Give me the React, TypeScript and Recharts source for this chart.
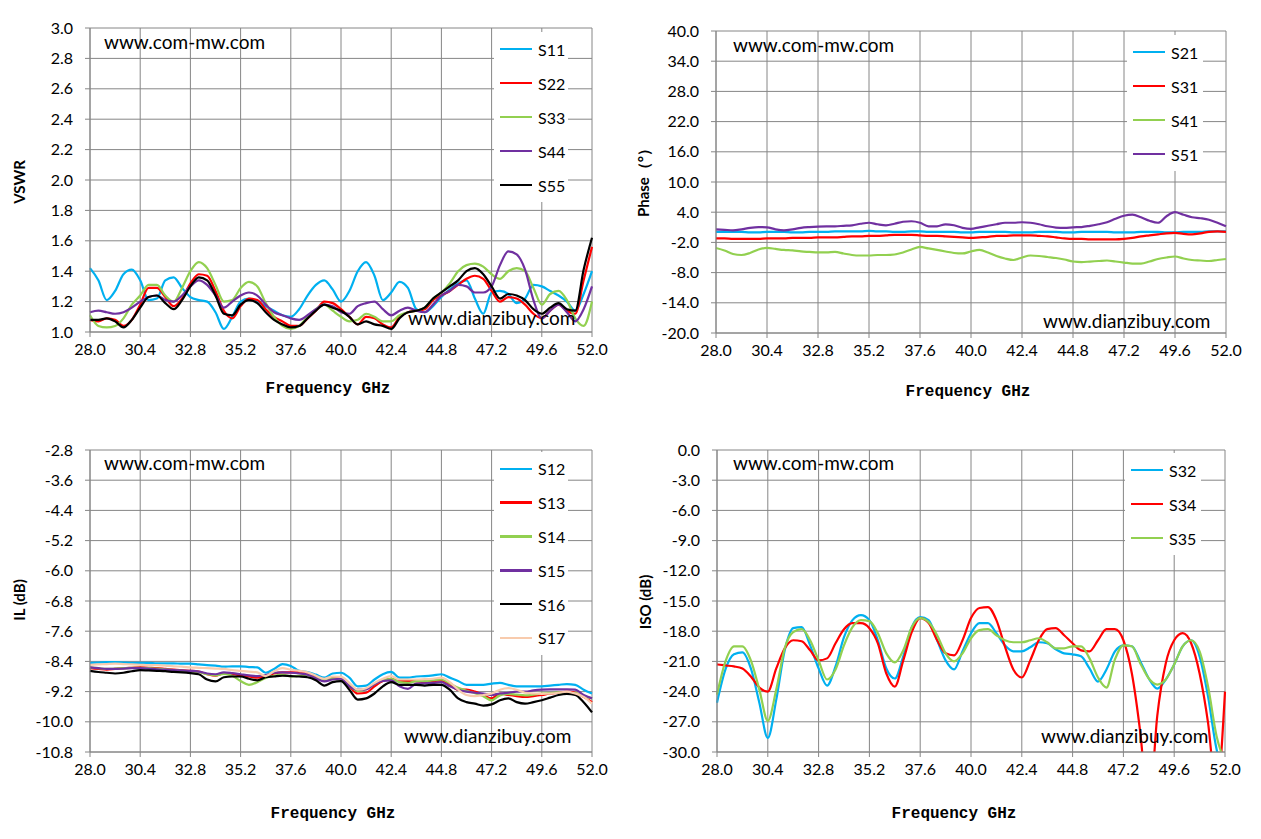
import { LineChart, Line, XAxis, YAxis, CartesianGrid } from 'recharts';

// frequency points, GHz
const freq = [
  28.0, 28.4, 28.8, 29.2, 29.6, 30.0, 30.4, 30.8, 31.2, 31.6,
  32.0, 32.4, 32.8, 33.2, 33.6, 34.0, 34.4, 34.8, 35.2, 35.6,
  36.0, 36.4, 36.8, 37.2, 37.6, 38.0, 38.4, 38.8, 39.2, 39.6,
  40.0, 40.4, 40.8, 41.2, 41.6, 42.0, 42.4, 42.8, 43.2, 43.6,
  44.0, 44.4, 44.8, 45.2, 45.6, 46.0, 46.4, 46.8, 47.2, 47.6,
  48.0, 48.4, 48.8, 49.2, 49.6, 50.0, 50.4, 50.8, 51.2, 51.6,
  52.0,
];
const freqTicks = [28.0, 30.4, 32.8, 35.2, 37.6, 40.0, 42.4, 44.8, 47.2, 49.6, 52.0];

// VSWR
const s11 = [
  1.42, 1.34, 1.21, 1.27, 1.38, 1.41, 1.34, 1.21, 1.22, 1.34,
  1.36, 1.29, 1.23, 1.21, 1.20, 1.13, 1.02, 1.10, 1.20, 1.22,
  1.20, 1.17, 1.14, 1.11, 1.10, 1.15, 1.24, 1.31, 1.34, 1.28,
  1.20, 1.27, 1.40, 1.46, 1.37, 1.21, 1.26, 1.33, 1.29, 1.15,
  1.13, 1.17, 1.23, 1.28, 1.32, 1.34, 1.22, 1.12, 1.26, 1.27,
  1.25, 1.19, 1.22, 1.31, 1.30, 1.27, 1.24, 1.20, 1.14, 1.25,
  1.40,
];
const s22 = [
  1.08, 1.07, 1.09, 1.08, 1.04, 1.08, 1.18, 1.29, 1.29, 1.23,
  1.17, 1.22, 1.32, 1.38, 1.37, 1.27, 1.14, 1.09, 1.17, 1.22,
  1.21, 1.15, 1.10, 1.07, 1.04, 1.04, 1.09, 1.14, 1.20, 1.19,
  1.15, 1.10, 1.05, 1.10, 1.09, 1.05, 1.03, 1.10, 1.13, 1.14,
  1.15, 1.21, 1.24, 1.27, 1.31, 1.35, 1.37, 1.35, 1.27, 1.20,
  1.23, 1.22, 1.18, 1.12, 1.09, 1.14, 1.18, 1.14, 1.12, 1.34,
  1.56,
];
const s33 = [
  1.11, 1.04, 1.03, 1.04, 1.09, 1.18, 1.24, 1.31, 1.31, 1.24,
  1.20, 1.29, 1.40, 1.46, 1.42, 1.31, 1.20, 1.21, 1.29, 1.33,
  1.30, 1.19, 1.10, 1.04, 1.02, 1.04, 1.10, 1.15, 1.18, 1.14,
  1.10, 1.07, 1.08, 1.12, 1.10, 1.07, 1.07, 1.11, 1.13, 1.14,
  1.16, 1.22, 1.26, 1.32, 1.40, 1.44, 1.45, 1.43, 1.38, 1.35,
  1.40, 1.42, 1.40, 1.29, 1.18, 1.25, 1.27, 1.21, 1.09, 1.04,
  1.20,
];
const s44 = [
  1.13, 1.14, 1.13, 1.12, 1.13, 1.16, 1.20, 1.23, 1.24, 1.21,
  1.20, 1.24, 1.30, 1.34, 1.31, 1.24, 1.16, 1.20, 1.24, 1.26,
  1.24, 1.18, 1.13, 1.11, 1.09, 1.08, 1.11, 1.15, 1.18, 1.17,
  1.13, 1.12, 1.17, 1.19, 1.20, 1.15, 1.11, 1.14, 1.16, 1.14,
  1.13, 1.18, 1.24, 1.27, 1.31, 1.30, 1.26, 1.26, 1.30, 1.44,
  1.53, 1.51, 1.41, 1.21, 1.09, 1.14, 1.18, 1.13, 1.07, 1.15,
  1.30,
];
const s55 = [
  1.08, 1.08, 1.09, 1.07, 1.03, 1.08, 1.16, 1.23, 1.24, 1.19,
  1.15, 1.21, 1.30, 1.36, 1.34, 1.24, 1.12, 1.11, 1.18, 1.21,
  1.19, 1.13, 1.08, 1.05, 1.03, 1.04, 1.09, 1.14, 1.18, 1.16,
  1.14, 1.10, 1.05, 1.07, 1.05, 1.04, 1.02, 1.09, 1.13, 1.14,
  1.16, 1.22, 1.26, 1.30, 1.34, 1.40, 1.42, 1.38, 1.30, 1.22,
  1.25, 1.24, 1.21, 1.15, 1.12, 1.16, 1.19, 1.15, 1.14, 1.41,
  1.62,
];
const vswrTicks = [1.0, 1.2, 1.4, 1.6, 1.8, 2.0, 2.2, 2.4, 2.6, 2.8, 3.0];

// Phase
const s21 = [
  0.1, 0.1, 0.1, 0.1, 0.0, 0.0, 0.1, 0.1, 0.1, 0.0,
  0.0, 0.1, 0.1, 0.1, 0.2, 0.2, 0.2, 0.2, 0.3, 0.2,
  0.2, 0.1, 0.1, 0.2, 0.2, 0.1, 0.1, 0.1, 0.1, 0.0,
  0.0, 0.1, 0.1, 0.1, 0.1, 0.0, 0.0, 0.0, 0.1, 0.1,
  0.1, 0.0, 0.0, 0.1, 0.1, 0.1, 0.1, 0.0, 0.0, 0.0,
  0.1, 0.1, 0.1, 0.0, 0.0, 0.1, 0.1, 0.1, 0.2, 0.2,
  0.2,
];
const s31 = [
  -1.2, -1.2, -1.3, -1.3, -1.3, -1.3, -1.2, -1.2, -1.2, -1.1,
  -1.1, -1.1, -1.0, -1.0, -1.0, -0.9, -0.8, -0.8, -0.7, -0.7,
  -0.6, -0.5, -0.5, -0.5, -0.6, -0.7, -0.7, -0.8, -0.9, -1.0,
  -1.1, -1.0, -0.9, -0.7, -0.7, -0.6, -0.6, -0.6, -0.7, -0.8,
  -1.0, -1.2, -1.3, -1.3, -1.4, -1.4, -1.4, -1.4, -1.3, -1.1,
  -0.8, -0.6, -0.4, -0.2, -0.1, -0.3, -0.4, -0.2, 0.1, 0.2,
  0.1,
];
const s41 = [
  -3.1, -3.6, -4.3, -4.5, -4.1, -3.4, -3.1, -3.3, -3.5, -3.6,
  -3.8, -3.9, -4.0, -4.0, -3.9, -4.2, -4.5, -4.6, -4.6, -4.5,
  -4.5, -4.4, -4.0, -3.4, -2.9, -3.2, -3.5, -3.8, -4.1, -4.2,
  -3.8, -3.5, -4.0, -4.7, -5.2, -5.5, -5.0, -4.6, -4.7, -4.9,
  -5.1, -5.4, -5.8, -5.9, -5.8, -5.7, -5.6, -5.8, -6.0, -6.2,
  -6.2, -5.8, -5.3, -5.0, -4.8, -5.2, -5.5, -5.6, -5.7, -5.5,
  -5.3,
];
const s51 = [
  0.6, 0.5, 0.4, 0.6, 0.9, 1.05, 1.0, 0.6, 0.4, 0.6,
  0.9, 1.05, 1.15, 1.2, 1.2, 1.3, 1.4, 1.7, 1.9, 1.6,
  1.4, 1.7, 2.1, 2.2, 1.9, 1.2, 1.2, 1.6, 1.4, 0.9,
  0.7, 1.0, 1.3, 1.6, 1.9, 1.9, 2.0, 1.9, 1.6, 1.2,
  0.95, 0.9, 1.0, 1.05, 1.3, 1.6, 2.0, 2.7, 3.3, 3.5,
  3.0, 2.3, 1.9, 3.2, 4.0, 3.5, 3.0, 2.8, 2.5, 1.9,
  1.2,
];
const phaseTicks = [-20, -14, -8, -2, 4, 10, 16, 22, 28, 34, 40];

// Insertion loss
const s12 = [
  -8.44, -8.43, -8.42, -8.42, -8.43, -8.44, -8.44, -8.44, -8.45, -8.45,
  -8.45, -8.46, -8.46, -8.48, -8.50, -8.51, -8.54, -8.53, -8.53, -8.55,
  -8.56, -8.70, -8.60, -8.47, -8.52, -8.65, -8.68, -8.75, -8.83, -8.72,
  -8.70, -8.83, -9.06, -9.04, -8.88, -8.74, -8.68, -8.83, -8.83, -8.80,
  -8.79, -8.77, -8.74, -8.83, -8.92, -9.02, -9.02, -9.02, -8.99, -8.97,
  -9.02, -9.06, -9.06, -9.06, -9.06, -9.04, -9.02, -9.00, -9.02, -9.15,
  -9.25,
];
const s13 = [
  -8.58, -8.60, -8.62, -8.60, -8.58, -8.57, -8.56, -8.57, -8.58, -8.60,
  -8.62, -8.64, -8.65, -8.67, -8.74, -8.78, -8.71, -8.73, -8.77, -8.80,
  -8.83, -8.79, -8.72, -8.69, -8.69, -8.69, -8.72, -8.82, -8.88, -8.83,
  -8.86, -9.06, -9.25, -9.23, -9.06, -8.92, -8.86, -8.92, -8.92, -8.92,
  -8.95, -8.92, -8.90, -9.02, -9.15, -9.15, -9.20, -9.29, -9.38, -9.25,
  -9.29, -9.32, -9.34, -9.32, -9.29, -9.25, -9.23, -9.20, -9.23, -9.34,
  -9.48,
];
const s14 = [
  -8.56, -8.58, -8.60, -8.59, -8.58, -8.57, -8.57, -8.58, -8.59, -8.61,
  -8.63, -8.65, -8.66, -8.68, -8.74, -8.77, -8.73, -8.78, -8.92, -9.02,
  -8.95, -8.84, -8.78, -8.75, -8.80, -8.78, -8.76, -8.84, -8.90, -8.85,
  -8.88, -9.04, -9.18, -9.14, -9.00, -8.90, -8.86, -8.95, -8.97, -8.92,
  -8.92, -8.90, -8.88, -8.98, -9.10, -9.18, -9.24, -9.32, -9.43, -9.30,
  -9.26, -9.28, -9.30, -9.28, -9.25, -9.24, -9.22, -9.25, -9.24, -9.32,
  -9.38,
];
const s15 = [
  -8.56, -8.58, -8.60, -8.60, -8.59, -8.58, -8.58, -8.59, -8.61, -8.62,
  -8.63, -8.64, -8.65, -8.67, -8.72, -8.74, -8.69, -8.71, -8.74, -8.77,
  -8.79, -8.76, -8.70, -8.69, -8.70, -8.72, -8.75, -8.85, -8.93, -8.88,
  -8.86, -9.06, -9.15, -9.14, -9.00, -8.92, -8.90, -9.06, -9.13, -8.99,
  -8.98, -8.97, -8.95, -9.06, -9.15, -9.20, -9.23, -9.25, -9.29, -9.25,
  -9.23, -9.20, -9.20, -9.17, -9.15, -9.14, -9.14, -9.14, -9.15, -9.29,
  -9.38,
];
const s16 = [
  -8.65, -8.68, -8.70, -8.72, -8.70, -8.66, -8.63, -8.64, -8.65, -8.66,
  -8.68, -8.69, -8.71, -8.74, -8.88, -8.93, -8.82, -8.80, -8.80, -8.86,
  -8.90, -8.82, -8.80, -8.78, -8.79, -8.80, -8.82, -8.90, -9.04, -8.95,
  -8.92, -9.15, -9.41, -9.38, -9.25, -9.06, -8.95, -9.02, -9.02, -9.02,
  -9.04, -9.02, -9.02, -9.15, -9.38, -9.48, -9.52, -9.57, -9.54, -9.43,
  -9.38, -9.48, -9.52, -9.48, -9.43, -9.36, -9.29, -9.26, -9.29, -9.48,
  -9.75,
];
const s17 = [
  -8.49, -8.48, -8.47, -8.46, -8.47, -8.48, -8.49, -8.50, -8.50, -8.51,
  -8.53, -8.54, -8.56, -8.57, -8.58, -8.59, -8.60, -8.63, -8.65, -8.67,
  -8.69, -8.79, -8.66, -8.58, -8.62, -8.65, -8.69, -8.78, -8.86, -8.80,
  -8.81, -8.97, -9.15, -9.11, -8.97, -8.86, -8.79, -8.88, -8.88, -8.88,
  -8.87, -8.86, -8.83, -8.95, -9.15, -9.29, -9.32, -9.29, -9.25, -9.15,
  -9.11, -9.15, -9.23, -9.25, -9.26, -9.25, -9.23, -9.20, -9.25, -9.34,
  -9.52,
];
const ilTicks = [-10.8, -10.0, -9.2, -8.4, -7.6, -6.8, -6.0, -5.2, -4.4, -3.6, -2.8];

// Isolation
const s32 = [
  -25.1, -21.8, -20.3, -20.1, -21.7, -25.1, -28.6, -24.8, -19.9, -17.7,
  -17.6, -19.4, -21.7, -23.4, -21.5, -18.6, -16.9, -16.4, -16.9, -18.9,
  -21.7, -22.7, -20.5, -17.6, -16.6, -16.9, -18.9, -20.9, -21.8, -20.0,
  -18.2, -17.2, -17.2, -18.2, -19.4, -20.0, -20.0, -19.6, -19.1, -19.2,
  -19.8, -20.2, -20.3, -20.5, -21.7, -23.0, -21.8, -20.0, -19.4, -19.5,
  -21.0, -22.7, -23.7, -22.8, -21.3, -19.5, -18.9, -20.5, -24.5, -29.7,
  -32.0,
];
const s34 = [
  -21.3, -21.4, -21.5, -21.7, -22.5, -23.6, -24.0, -21.7, -19.7, -18.9,
  -19.0, -19.9, -20.9, -20.7, -19.2, -17.8, -17.2, -17.2, -17.7, -19.2,
  -22.2, -23.5, -20.9, -18.1, -16.7, -17.2, -18.9, -20.2, -20.4, -18.9,
  -16.7, -15.7, -15.6, -16.9, -19.5, -21.8, -22.6, -20.9, -18.9, -17.8,
  -17.7, -18.4, -19.2, -19.9, -20.0, -18.9, -17.8, -17.8, -18.9, -22.2,
  -28.1, -36.0, -26.4, -21.2, -18.9, -18.2, -19.2, -22.2, -27.1, -34.0,
  -24.0,
];
const s35 = [
  -24.3, -21.0, -19.5, -19.5, -20.9, -23.8, -26.9, -23.8, -19.7, -18.1,
  -17.8, -18.9, -20.9, -22.8, -21.8, -19.4, -17.6, -16.9, -17.0, -18.2,
  -20.2, -21.1, -19.9, -17.6, -16.7, -17.1, -18.4, -20.2, -21.0, -20.2,
  -18.7, -17.9, -17.8, -18.4, -18.9, -19.1, -19.1, -18.9, -18.7, -19.1,
  -19.7, -19.7, -19.5, -19.5, -20.7, -22.6, -23.6, -20.8, -19.4, -19.5,
  -21.2, -22.7, -23.3, -22.8, -21.3, -19.5, -18.9, -20.0, -23.5, -28.4,
  -31.0,
];
const isoTicks = [-30, -27, -24, -21, -18, -15, -12, -9, -6, -3, 0];

const BLUE = '#00B0F0';
const RED = '#FF0000';
const GREEN = '#92D050';
const PURPLE = '#7030A0';
const BLACK = '#000000';
const PEACH = '#F8CBAD';
const GRID = '#868686';
const FONT = 'Lato, "Liberation Sans", sans-serif';

const vswrData = freq.map((f, i) => ({ f, S11: s11[i], S22: s22[i], S33: s33[i], S44: s44[i], S55: s55[i] }));
const phaseData = freq.map((f, i) => ({ f, S21: s21[i], S31: s31[i], S41: s41[i], S51: s51[i] }));
const ilData = freq.map((f, i) => ({ f, S12: s12[i], S13: s13[i], S14: s14[i], S15: s15[i], S16: s16[i], S17: s17[i] }));
const isoData = freq.map((f, i) => ({ f, S32: s32[i], S34: s34[i], S35: s35[i] }));

type Series = { key: string; color: string };

type PanelProps = {
  x: number; y: number; w: number; h: number;
  plot: { l: number; r: number; t: number; b: number };
  data: any[];
  series: Series[];
  yTicks: number[];
  yLabel: string;
  legend: { left: number; top: number; width: number; row: number };
  yTitle: { cx: number; cy: number };
  xTitle: { cx: number; cy: number };
  mark1: { left: number; top: number };
  mark2: { left: number; top: number };
};

function Panel(p: PanelProps) {
  const { l, r, t, b } = p.plot;
  const margin = { top: t, right: p.w - r, bottom: p.h - b - 30, left: l - 60 };
  const lo = p.yTicks[0];
  const hi = p.yTicks[p.yTicks.length - 1];
  const tickStyle = { fill: '#000', fontSize: 16, fontFamily: FONT };
  const markStyle = { position: 'absolute' as const, fontFamily: FONT, fontSize: 19, lineHeight: '22px', color: '#000', whiteSpace: 'nowrap' as const };
  return (
    <div style={{ position: 'absolute', left: p.x, top: p.y, width: p.w, height: p.h }}>
      <LineChart width={p.w} height={p.h} data={p.data} margin={margin}>
        <CartesianGrid stroke={GRID} strokeWidth={1} />
        <XAxis
          type="number"
          dataKey="f"
          domain={[28, 52]}
          ticks={freqTicks}
          interval={0}
          tickFormatter={(v: number) => v.toFixed(1)}
          height={30}
          tickSize={5}
          tickMargin={7}
          stroke={GRID}
          tick={tickStyle}
        />
        <YAxis
          type="number"
          domain={[lo, hi]}
          ticks={p.yTicks}
          interval={0}
          allowDataOverflow
          tickFormatter={(v: number) => v.toFixed(1)}
          width={60}
          tickSize={5}
          tickMargin={12}
          stroke={GRID}
          tick={tickStyle}
        />
        {p.series.map((s) => (
          <Line
            key={s.key}
            dataKey={s.key}
            stroke={s.color}
            strokeWidth={2.2}
            type="monotone"
            dot={false}
            activeDot={false}
            isAnimationActive={false}
          />
        ))}
      </LineChart>

      <div
        style={{
          position: 'absolute', left: p.legend.left, top: p.legend.top, width: p.legend.width,
          background: '#fff', fontFamily: FONT, fontSize: 16, color: '#000',
        }}
      >
        {p.series.map((s) => (
          <div key={s.key} style={{ display: 'flex', alignItems: 'center', height: p.legend.row }}>
            <div style={{ width: 32, height: 2.5, background: s.color, marginLeft: 6, marginRight: 6 }} />
            <span>{s.key}</span>
          </div>
        ))}
      </div>

      <div style={{ ...markStyle, left: p.mark1.left, top: p.mark1.top }}>www.com-mw.com</div>
      <div style={{ ...markStyle, left: p.mark2.left, top: p.mark2.top }}>www.dianzibuy.com</div>

      <div
        style={{
          position: 'absolute', left: p.yTitle.cx, top: p.yTitle.cy, transform: 'translate(-50%, -50%) rotate(-90deg)',
          fontFamily: FONT, fontWeight: 700, fontSize: 15, whiteSpace: 'nowrap', color: '#000',
        }}
      >
        {p.yLabel}
      </div>
      <div
        style={{
          position: 'absolute', left: p.xTitle.cx, top: p.xTitle.cy, transform: 'translate(-50%, -50%)',
          fontFamily: '"Liberation Mono", "DejaVu Sans Mono", monospace', fontWeight: 700, fontSize: 16,
          whiteSpace: 'nowrap', color: '#000',
        }}
      >
        Frequency GHz
      </div>
    </div>
  );
}

export default function App() {
  return (
    <div style={{ position: 'absolute', left: 0, top: 0, width: 1261, height: 839, background: '#fff', overflow: 'hidden' }}>
      <Panel
        x={0} y={0} w={630} h={420}
        plot={{ l: 90, r: 592, t: 28, b: 332 }}
        data={vswrData}
        series={[
          { key: 'S11', color: BLUE },
          { key: 'S22', color: RED },
          { key: 'S33', color: GREEN },
          { key: 'S44', color: PURPLE },
          { key: 'S55', color: BLACK },
        ]}
        yTicks={vswrTicks}
        yLabel="VSWR"
        legend={{ left: 494, top: 32, width: 74, row: 34 }}
        yTitle={{ cx: 19, cy: 182 }}
        xTitle={{ cx: 328, cy: 389 }}
        mark1={{ left: 104, top: 31 }}
        mark2={{ left: 408, top: 307 }}
      />
      <Panel
        x={630} y={0} w={631} h={420}
        plot={{ l: 86, r: 596, t: 31, b: 333 }}
        data={phaseData}
        series={[
          { key: 'S21', color: BLUE },
          { key: 'S31', color: RED },
          { key: 'S41', color: GREEN },
          { key: 'S51', color: PURPLE },
        ]}
        yTicks={phaseTicks}
        yLabel="Phase（°）"
        legend={{ left: 497, top: 35, width: 76, row: 34 }}
        yTitle={{ cx: 14, cy: 179 }}
        xTitle={{ cx: 338, cy: 392 }}
        mark1={{ left: 103, top: 34 }}
        mark2={{ left: 413, top: 310 }}
      />
      <Panel
        x={0} y={420} w={630} h={419}
        plot={{ l: 90, r: 592, t: 30, b: 332 }}
        data={ilData}
        series={[
          { key: 'S12', color: BLUE },
          { key: 'S13', color: RED },
          { key: 'S14', color: GREEN },
          { key: 'S15', color: PURPLE },
          { key: 'S16', color: BLACK },
          { key: 'S17', color: PEACH },
        ]}
        yTicks={ilTicks}
        yLabel="IL (dB)"
        legend={{ left: 494, top: 32, width: 74, row: 33.8 }}
        yTitle={{ cx: 19, cy: 180 }}
        xTitle={{ cx: 333, cy: 394 }}
        mark1={{ left: 104, top: 32 }}
        mark2={{ left: 404, top: 305 }}
      />
      <Panel
        x={630} y={420} w={631} h={419}
        plot={{ l: 87, r: 595, t: 30, b: 332 }}
        data={isoData}
        series={[
          { key: 'S32', color: BLUE },
          { key: 'S34', color: RED },
          { key: 'S35', color: GREEN },
        ]}
        yTicks={isoTicks}
        yLabel="ISO (dB)"
        legend={{ left: 495, top: 33, width: 76, row: 34 }}
        yTitle={{ cx: 15, cy: 182 }}
        xTitle={{ cx: 324, cy: 394 }}
        mark1={{ left: 103, top: 32 }}
        mark2={{ left: 411, top: 305 }}
      />
    </div>
  );
}
